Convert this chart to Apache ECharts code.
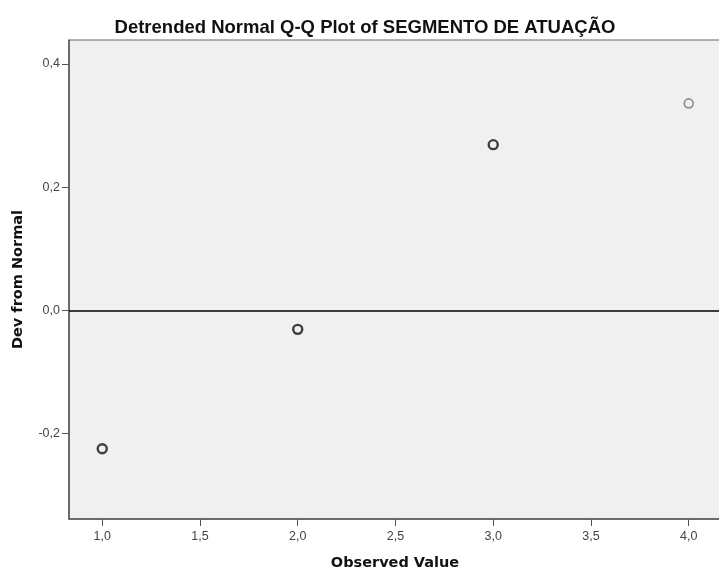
<!DOCTYPE html>
<html>
<head>
<meta charset="utf-8">
<script src="https://cdn.jsdelivr.net/npm/echarts@6/dist/echarts.min.js"></script>
<style>
  html, body { margin: 0; padding: 0; background: #fff; }
  #chart { width: 719px; height: 574px; }
</style>
</head>
<body>
<div id="chart"></div>
<script>
// Observed values and their deviation from the normal line
const observed = [1, 2, 3, 4];
const deviation = [-0.225, -0.031, 0.269, 0.336];
// Point outline colours (repeated cases render darker)
const outlineColors = ['#111', '#111', '#111', '#777'];
const outlineWidths = [2.4, 2.4, 2.4, 1.6];
// Tick positions on each axis
const xTicks = [1.0, 1.5, 2.0, 2.5, 3.0, 3.5, 4.0];
const yTicks = [-0.2, 0.0, 0.2, 0.4];

const chart = echarts.init(document.getElementById('chart'));

const fmt = v => Number(v).toFixed(1).replace('.', ',');

const points = observed.map((x, i) => ({
  value: [x, deviation[i]],
  itemStyle: { color: '#f0f0f0', borderColor: outlineColors[i], borderWidth: outlineWidths[i] }
}));

chart.setOption({
  animation: false,
  backgroundColor: '#ffffff',
  title: {
    text: 'Detrended Normal Q-Q Plot of SEGMENTO DE ATUAÇÃO',
    left: 360,
    textAlign: 'center',
    top: 13,
    textStyle: { fontFamily: 'Liberation Sans', fontSize: 18.5, fontWeight: 'bold', color: '#111' }
  },
  graphic: [{
    type: 'text',
    silent: true,
    style: {
      text: 'Observed Value',
      x: 395,
      y: 563,
      align: 'center',
      verticalAlign: 'middle',
      font: 'bold 14.5px "DejaVu Sans"',
      fill: '#111'
    }
  }],
  grid: {
    left: 69,
    top: 40,
    width: 720,
    bottom: 55,
    outerBoundsMode: 'none',
    containLabel: false,
    show: true,
    backgroundColor: '#f0f0f0',
    borderColor: '#666',
    borderWidth: 1
  },
  xAxis: {
    type: 'value',
    min: 0.83,
    max: 0.83 + 720 / 195.5,
    axisLine: { show: true, onZero: false, lineStyle: { color: '#555', width: 1.5 } },
    axisTick: { show: true, length: 7, customValues: xTicks, lineStyle: { color: '#555' } },
    axisLabel: {
      customValues: xTicks,
      formatter: fmt,
      fontFamily: 'Liberation Sans',
      fontSize: 12.5,
      color: '#444',
      margin: 11
    },
    splitLine: { show: false }
  },
  yAxis: {
    type: 'value',
    min: -0.339,
    max: 0.439,
    name: 'Dev from Normal',
    nameLocation: 'middle',
    nameRotate: 90,
    nameGap: 43,
    nameTextStyle: { fontFamily: 'DejaVu Sans', fontSize: 14.5, fontWeight: 'bold', color: '#111' },
    axisLine: { show: true, onZero: false, lineStyle: { color: '#555', width: 1.5 } },
    axisTick: { show: true, length: 7, customValues: yTicks, lineStyle: { color: '#555' } },
    axisLabel: {
      customValues: yTicks,
      formatter: fmt,
      fontFamily: 'Liberation Sans',
      fontSize: 12.5,
      color: '#444',
      margin: 9
    },
    splitLine: { show: false }
  },
  series: [{
    type: 'scatter',
    symbol: 'circle',
    symbolSize: 9,
    data: points,
    markLine: {
      silent: true,
      symbol: 'none',
      label: { show: false },
      lineStyle: { color: '#000', width: 1.5, type: 'solid' },
      data: [{ yAxis: 0 }]
    }
  }]
});
</script>
</body>
</html>
